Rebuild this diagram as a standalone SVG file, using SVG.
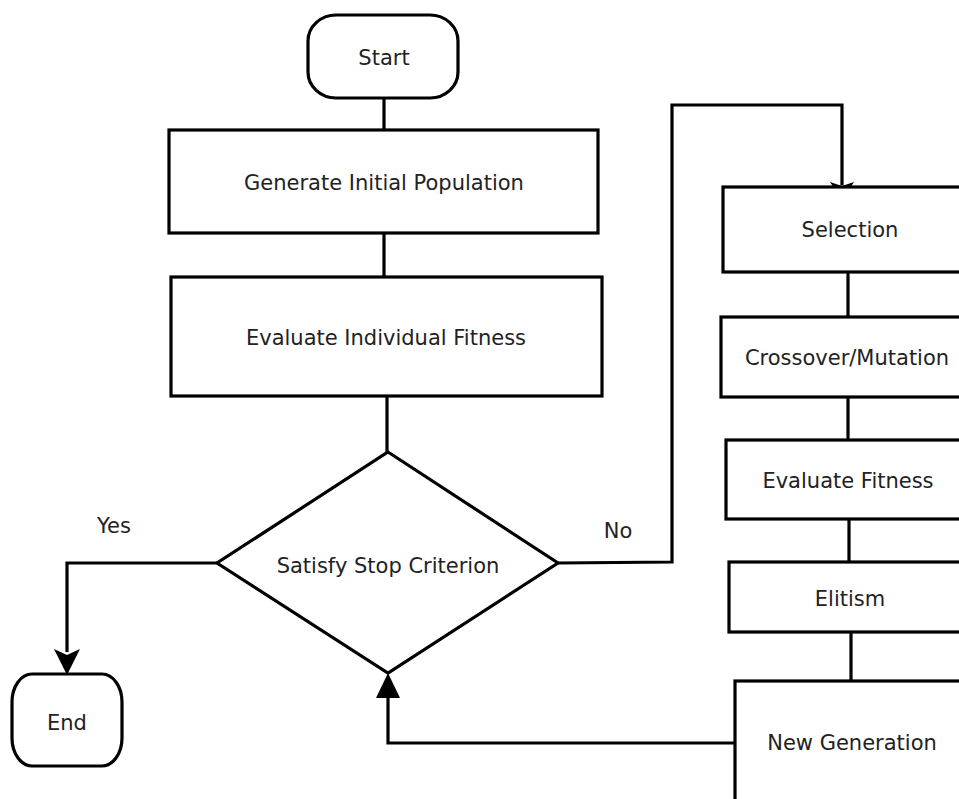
<svg xmlns="http://www.w3.org/2000/svg" width="959" height="799" viewBox="0 0 959 799">
<style>
.s{fill:#fff;stroke:#000;stroke-width:3.2}
.c{fill:none;stroke:#000;stroke-width:3.2}
.t{font-family:"DejaVu Sans",Verdana,sans-serif;font-size:21px;fill:#222;text-anchor:middle}
.a{fill:#000;stroke:none}
</style>
<rect width="959" height="799" fill="#fff"/>
<g id="connectors">
<line class="c" x1="384" y1="98" x2="384" y2="130"/>
<line class="c" x1="384" y1="233" x2="384" y2="277"/>
<line class="c" x1="387" y1="396" x2="387" y2="452"/>
<polyline class="c" points="217,563 67,563 67,652"/>
<polygon class="a" points="67,675 54,649 67,655 80,649"/>
<polyline class="c" points="558,563 672,562 672,105 842,105 842,185"/>
<polygon class="a" points="842,200 830,182 842,186 854,182"/>
<line class="c" x1="848" y1="272" x2="848" y2="317"/>
<line class="c" x1="848" y1="397" x2="848" y2="440"/>
<line class="c" x1="849" y1="519" x2="849" y2="562"/>
<line class="c" x1="851" y1="632" x2="851" y2="681"/>
<polyline class="c" points="735,743 388,743 388,696"/>
<polygon class="a" points="388,673 376,698 400,698"/>
</g>
<g id="start">
<rect class="s" x="308" y="15" width="150" height="83" rx="28" ry="26"/>
<text class="t" x="384" y="65">Start</text>
</g>
<g id="generate">
<rect class="s" x="169" y="130" width="429" height="103"/>
<text class="t" x="384" y="190">Generate Initial Population</text>
</g>
<g id="evaluate-individual">
<rect class="s" x="171" y="277" width="431" height="119"/>
<text class="t" x="386" y="345">Evaluate Individual Fitness</text>
</g>
<g id="decision">
<polygon class="s" points="388,452 558,563 388,673 217,563"/>
<text class="t" x="388" y="573">Satisfy Stop Criterion</text>
</g>
<g id="end">
<rect class="s" x="12" y="674" width="110" height="92" rx="20" ry="28"/>
<text class="t" x="67" y="730">End</text>
</g>
<g id="labels">
<text class="t" x="114" y="533">Yes</text>
<text class="t" x="618" y="538">No</text>
</g>
<g id="selection">
<rect class="s" x="723" y="187" width="250" height="85"/>
<text class="t" x="850" y="237">Selection</text>
</g>
<g id="crossover">
<rect class="s" x="721" y="317" width="250" height="80"/>
<text class="t" x="847" y="365">Crossover/Mutation</text>
</g>
<g id="evaluate-fitness">
<rect class="s" x="726" y="440" width="250" height="79"/>
<text class="t" x="848" y="488">Evaluate Fitness</text>
</g>
<g id="elitism">
<rect class="s" x="729" y="562" width="250" height="70"/>
<text class="t" x="850" y="606">Elitism</text>
</g>
<g id="new-generation">
<rect class="s" x="735" y="681" width="250" height="140"/>
<text class="t" x="852" y="750">New Generation</text>
</g>
</svg>
